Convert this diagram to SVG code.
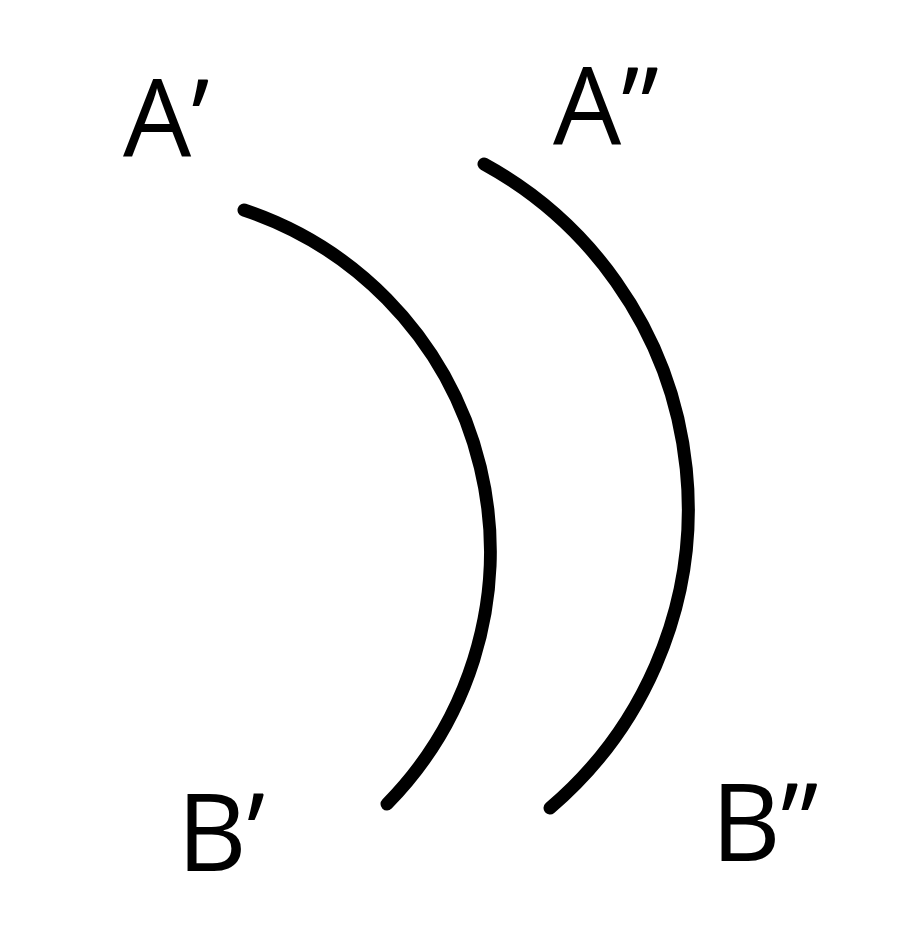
<svg xmlns="http://www.w3.org/2000/svg" width="900" height="943" viewBox="0 0 900 943">
<style>
.lbl{font-family:"Open Sans","Noto Sans","Liberation Sans",sans-serif;font-size:108px;fill:#000}
.arc{fill:none;stroke:#000;stroke-width:13;stroke-linecap:round}
</style>
<rect width="900" height="943" fill="#fff"/>
<g id="connectors">
<path class="arc" d="M244,210 A360,360 0 0 1 387,804"/>
<path class="arc" d="M484,164 A393,393 0 0 1 550,808"/>
</g>
<g id="A1"><text class="lbl" x="123" y="157">A’</text></g>
<g id="A2"><text class="lbl" x="553" y="145">A”</text></g>
<g id="B1"><text class="lbl" x="177" y="871">B’</text></g>
<g id="B2"><text class="lbl" x="711" y="861">B”</text></g>
</svg>
